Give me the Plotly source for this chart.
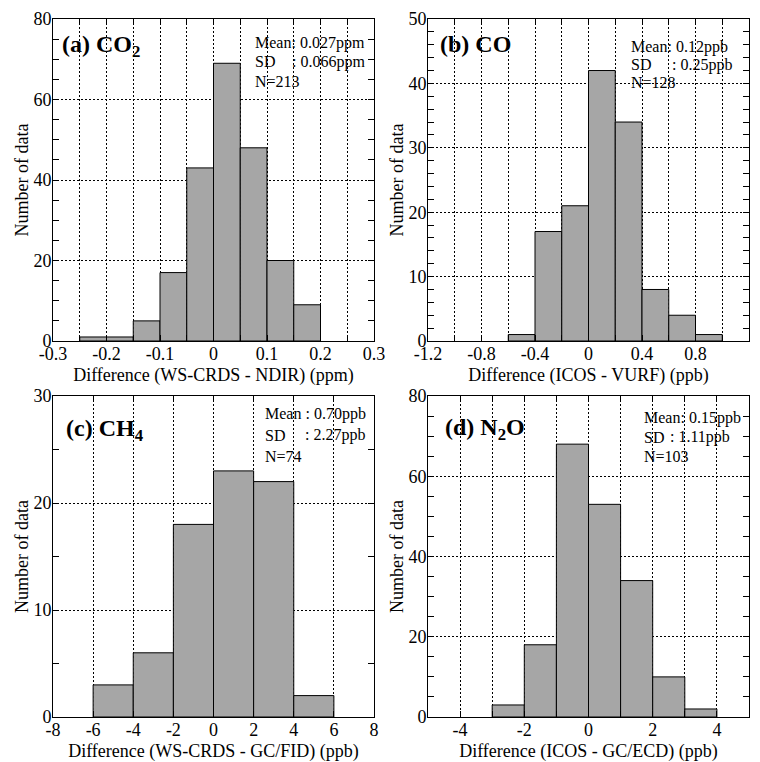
import plotly.graph_objects as go

OFF = 8                      # page body margin of the html page
W, H = 760 - OFF, 762 - OFF  # figure size so the figure fills the window
FONT = "Liberation Serif"

# ---------------- data ----------------
co2_edges = [-0.25, -0.2, -0.15, -0.1, -0.05, 0.0, 0.05, 0.1, 0.15, 0.2]
co2_counts = [1, 1, 5, 17, 43, 69, 48, 20, 9]
co_edges = [-0.6, -0.4, -0.2, 0.0, 0.2, 0.4, 0.6, 0.8, 1.0]
co_counts = [1, 17, 21, 42, 34, 8, 4, 1]
ch4_edges = [-6, -4, -2, 0, 2, 4, 6]
ch4_counts = [3, 6, 18, 23, 22, 2]
n2o_edges = [-3, -2, -1, 0, 1, 2, 3, 4]
n2o_counts = [3, 18, 68, 53, 34, 10, 2]

co2_xticks = [-0.3, -0.2, -0.1, 0, 0.1, 0.2, 0.3]
co2_xlabels = ["-0.3", "-0.2", "-0.1", "0", "0.1", "0.2", "0.3"]
co_xticks = [-1.2, -0.8, -0.4, 0, 0.4, 0.8, 1.2]
co_xlabels = ["-1.2", "-0.8", "-0.4", "0", "0.4", "0.8", "1.2"]
ch4_xticks = [-8, -6, -4, -2, 0, 2, 4, 6, 8]
ch4_xlabels = ["-8", "-6", "-4", "-2", "0", "2", "4", "6", "8"]
n2o_xticks = [-4, -2, 0, 2, 4]
n2o_xlabels = ["-4", "-2", "0", "2", "4"]

titles = ["(a) CO<sub>2</sub>", "(b) CO", "(c) CH<sub>4</sub>", "(d) N<sub>2</sub>O"]
xtitles = ["Difference (WS-CRDS - NDIR) (ppm)", "Difference (ICOS - VURF) (ppb)",
           "Difference (WS-CRDS - GC/FID) (ppb)", "Difference (ICOS - GC/ECD) (ppb)"]
mean_txt = ["Mean: 0.027ppm", "Mean: 0.12ppb", "Mean : 0.70ppb", "Mean: 0.15ppb"]
sd_txt = [": 0.066ppm", ": 0.25ppb", ": 2.27ppb", ": 1.11ppb"]
n_txt = ["N=213", "N=128", "N=74", "N=103"]

# ---------------- layout geometry (window pixels) ----------------
def px_x(p):
    return (p - OFF) / W

def px_y(p):
    return 1 - (p - OFF) / H

boxes = [  # x0, x1, ytop, ybottom in window pixels
    (53, 374, 19, 341),
    (428, 749, 19, 341),
    (53, 374, 396, 717),
    (428, 749, 396, 717),
]

panels = [
    dict(edges=co2_edges, counts=co2_counts, xr=[-0.3, 0.3], xt=co2_xticks, xl=co2_xlabels,
         xminor=0.05, xtick0=-0.3, yr=[0, 80], ydt=20, yminor=5),
    dict(edges=co_edges, counts=co_counts, xr=[-1.2, 1.2], xt=co_xticks, xl=co_xlabels,
         xminor=0.2, xtick0=-1.2, yr=[0, 50], ydt=10, yminor=2),
    dict(edges=ch4_edges, counts=ch4_counts, xr=[-8, 8], xt=ch4_xticks, xl=ch4_xlabels,
         xminor=2, xtick0=-8, yr=[0, 30], ydt=10, yminor=5),
    dict(edges=n2o_edges, counts=n2o_counts, xr=[-5, 5], xt=n2o_xticks, xl=n2o_xlabels,
         xminor=1, xtick0=-5, yr=[0, 80], ydt=20, yminor=5),
]

fig = go.Figure()
layout = dict(width=W, height=H, margin=dict(l=0, r=0, t=0, b=0, autoexpand=False),
              paper_bgcolor="white", plot_bgcolor="white", showlegend=False,
              font=dict(family=FONT, size=18, color="black"))

GRID = dict(gridcolor="black", gridwidth=1, griddash="2px,2px")

for i, p in enumerate(panels):
    n = "" if i == 0 else str(i + 1)
    e = p["edges"]
    centers = [(e[k] + e[k + 1]) / 2 for k in range(len(e) - 1)]
    widths = [e[k + 1] - e[k] for k in range(len(e) - 1)]
    fig.add_trace(go.Bar(x=centers, y=p["counts"], width=widths,
                         marker=dict(color="#a6a6a6", line=dict(color="black", width=1)),
                         xaxis="x" + n, yaxis="y" + n, hoverinfo="x+y"))
    x0, x1, yt, yb = boxes[i]
    layout["xaxis" + n] = dict(
        domain=[px_x(x0), px_x(x1)], anchor="y" + n, range=p["xr"], automargin=False,
        tickmode="array", tickvals=p["xt"], ticktext=p["xl"], ticklabelstandoff=-4,
        showline=True, linecolor="black", linewidth=1, mirror="allticks",
        ticks="inside", ticklen=6, tickcolor="black", zeroline=False,
        showgrid=True, **GRID,
        minor=dict(tickmode="linear", tick0=p["xtick0"], dtick=p["xminor"], ticks="inside",
                   ticklen=6, tickcolor="black", showgrid=True, **GRID),
        tickfont=dict(size=18, family=FONT),
        title=dict(text=xtitles[i], font=dict(size=18, family=FONT), standoff=5),
    )
    layout["yaxis" + n] = dict(
        domain=[px_y(yb), px_y(yt)], anchor="x" + n, range=p["yr"], automargin=False,
        tickmode="linear", tick0=0, dtick=p["ydt"], ticklabelstandoff=-3,
        showline=True, linecolor="black", linewidth=1, mirror="allticks",
        ticks="inside", ticklen=6, tickcolor="black", zeroline=False,
        showgrid=True, **GRID,
        minor=dict(tickmode="linear", tick0=0, dtick=p["yminor"], ticks="inside",
                   ticklen=6, tickcolor="black", showgrid=False),
        tickfont=dict(size=18, family=FONT),
        title=dict(text="Number of data", font=dict(size=18, family=FONT), standoff=0),
    )

# annotations
label_pos = [(60, 46), (438, 44), (64, 430), (443, 429)]
stat_pos = [  # left, colon x, mean y, sd y, n y
    (253, 290, 43, 62, 81),
    (629, 670, 47, 65, 83),
    (263, 303, 414, 435, 456),
    (642, 668, 418, 437, 456),
]
ann = []
for i in range(4):
    lx, ly = label_pos[i]
    ann.append(dict(text="<b>" + titles[i] + "</b>", x=px_x(lx), y=px_y(ly), xref="paper", yref="paper",
                    xanchor="left", yanchor="middle", showarrow=False,
                    font=dict(size=24, family=FONT, color="black")))
    sx, cx, my, sy, ny = stat_pos[i]
    for txt, x, y in [(mean_txt[i], sx, my), ("SD", sx, sy), (sd_txt[i], cx, sy), (n_txt[i], sx, ny)]:
        ann.append(dict(text=txt, x=px_x(x), y=px_y(y), xref="paper", yref="paper",
                        xanchor="left", yanchor="middle", showarrow=False,
                        font=dict(size=16, family=FONT, color="black")))
layout["annotations"] = ann

fig.update_layout(**layout)
fig.write_html("out.html")
